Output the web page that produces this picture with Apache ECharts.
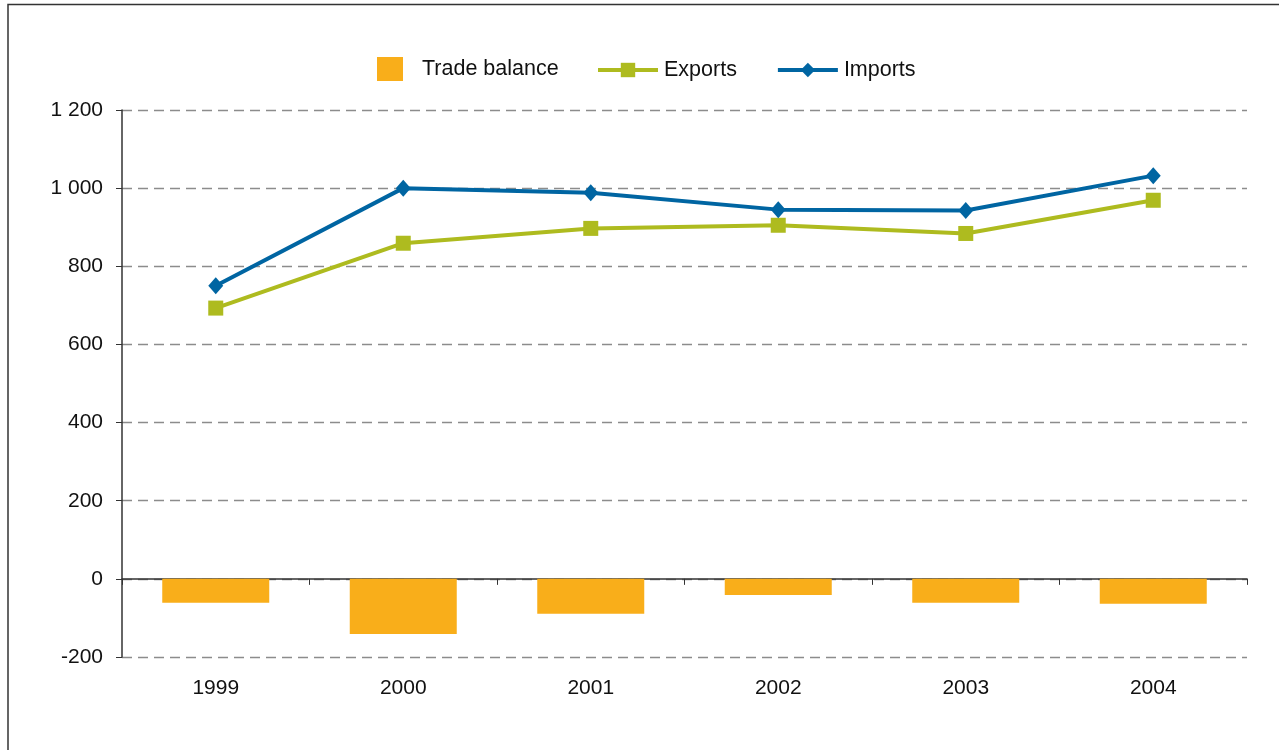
<!DOCTYPE html>
<html>
<head>
<meta charset="utf-8">
<script src="https://cdn.jsdelivr.net/npm/echarts@6/dist/echarts.min.js"></script>
<style>
  html, body { margin: 0; padding: 0; background: #fff; }
  #myChart { width: 1279px; height: 750px; }
</style>
</head>
<body>
<div id="myChart"></div>
<script>
var years = ['1999', '2000', '2001', '2002', '2003', '2004'];
var tradeBalance = [-61, -141, -89, -41, -61, -64];
var exportsData = [693, 859, 897, 905, 884, 969];
var importsData = [750, 1000, 988, 945, 943, 1032];
var yTicks = { min: -200, max: 1200, interval: 200 };

var myChart = echarts.init(document.getElementById('myChart'));

function fmt(v) {
    // thousands separated by a space, like "1 200"
    return String(v).replace(/\B(?=(\d{3})+(?!\d))/g, ' ');
}

var font = 'Liberation Sans, Arial, sans-serif';

var option = {
    animation: false,
    backgroundColor: '#fff',
    textStyle: { fontFamily: font },
    graphic: [{
        type: 'polyline',
        shape: { points: [[8, 760], [8, 4.5], [1290, 4.5]] },
        style: { fill: null, stroke: '#333', lineWidth: 1.5 },
        silent: true
    }],
    legend: [{
        left: 377, top: 57, padding: 0,
        itemWidth: 26, itemHeight: 24,
        textStyle: { fontSize: 21.5, color: '#111', fontFamily: font, padding: [0, 0, 0, 14] },
        data: [{ name: 'Trade balance', icon: 'rect' }]
    }, {
        left: 596, top: 59, padding: 0,
        itemWidth: 60, itemHeight: 18, itemGap: 39,
        lineStyle: { width: 4 },
        textStyle: { fontSize: 21.5, color: '#111', fontFamily: font, padding: [0, 0, 0, 1] },
        data: ['Exports', 'Imports']
    }],
    grid: { left: 122, right: 32, top: 110, bottom: 93, containLabel: false },
    xAxis: [{
        type: 'category',
        data: years,
        boundaryGap: true,
        axisLine: { onZero: true, lineStyle: { color: '#333', width: 1.5 } },
        axisTick: { show: true, length: 6, inside: false, lineStyle: { color: '#333' } },
        axisLabel: { show: false },
        splitLine: { show: false }
    }, {
        type: 'category',
        data: years,
        position: 'bottom',
        axisLine: { show: false, onZero: false },
        axisTick: { show: false },
        axisLabel: { show: true, margin: 21, fontSize: 21, color: '#111', fontFamily: font }
    }],
    yAxis: {
        type: 'value',
        min: yTicks.min, max: yTicks.max, interval: yTicks.interval,
        axisLine: { show: true, lineStyle: { color: '#333', width: 1.5 } },
        axisTick: { show: true, length: 6, lineStyle: { color: '#333' } },
        axisLabel: { margin: 19, fontSize: 21, color: '#111', fontFamily: font, formatter: fmt },
        splitLine: { show: true, lineStyle: { color: '#8c8c8c', type: [10, 6], width: 1.4 } }
    },
    series: [{
        name: 'Trade balance',
        type: 'bar',
        xAxisIndex: 0,
        barWidth: 107,
        itemStyle: { color: '#F9AE1A' },
        data: tradeBalance
    }, {
        name: 'Exports',
        type: 'line',
        xAxisIndex: 0,
        symbol: 'rect',
        symbolSize: 15,
        lineStyle: { color: '#AEBB1F', width: 4 },
        itemStyle: { color: '#AEBB1F' },
        data: exportsData
    }, {
        name: 'Imports',
        type: 'line',
        xAxisIndex: 0,
        symbol: 'diamond',
        symbolSize: [15, 17],
        lineStyle: { color: '#0065A2', width: 4 },
        itemStyle: { color: '#0065A2' },
        data: importsData
    }]
};

myChart.setOption(option);
</script>
</body>
</html>
